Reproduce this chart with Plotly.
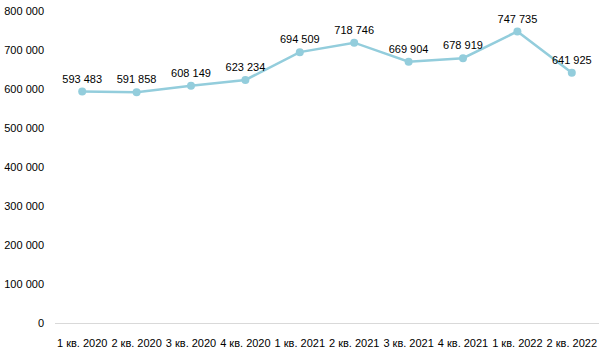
import plotly.graph_objects as go

categories = ["1 кв. 2020", "2 кв. 2020", "3 кв. 2020", "4 кв. 2020", "1 кв. 2021",
              "2 кв. 2021", "3 кв. 2021", "4 кв. 2021", "1 кв. 2022", "2 кв. 2022"]
values = [593483, 591858, 608149, 623234, 694509, 718746, 669904, 678919, 747735, 641925]
y_ticks = [0, 100000, 200000, 300000, 400000, 500000, 600000, 700000, 800000]

def fmt(v):
    return f"{v:,}".replace(",", " ")

labels = [fmt(v) for v in values]
y_tick_text = [fmt(v) for v in y_ticks]

fig = go.Figure(go.Scatter(
    x=categories, y=values,
    mode="lines+markers+text",
    line=dict(color="#93CDDC", width=2.5),
    marker=dict(color="#93CDDC", size=8),
    text=labels, textposition="top center",
    textfont=dict(family="Liberation Sans, Arial", size=11, color="#000000"),
    cliponaxis=False,
))

fig.update_layout(
    width=600, height=354,
    margin=dict(l=55, r=1, t=11, b=31),
    paper_bgcolor="white", plot_bgcolor="white",
    showlegend=False,
    font=dict(family="Liberation Sans, Arial", size=11, color="#000000"),
    xaxis=dict(showgrid=False, showline=True, linecolor="#D9D9D9", linewidth=1,
               ticks="", tickfont=dict(size=11), range=[-0.5, 9.5],
               ticklabelstandoff=10),
    yaxis=dict(showgrid=False, zeroline=False, showline=False, range=[0, 800000],
               tickvals=y_ticks, ticktext=y_tick_text, ticks="",
               ticklabelstandoff=10),
)

fig.write_html("out.html")
